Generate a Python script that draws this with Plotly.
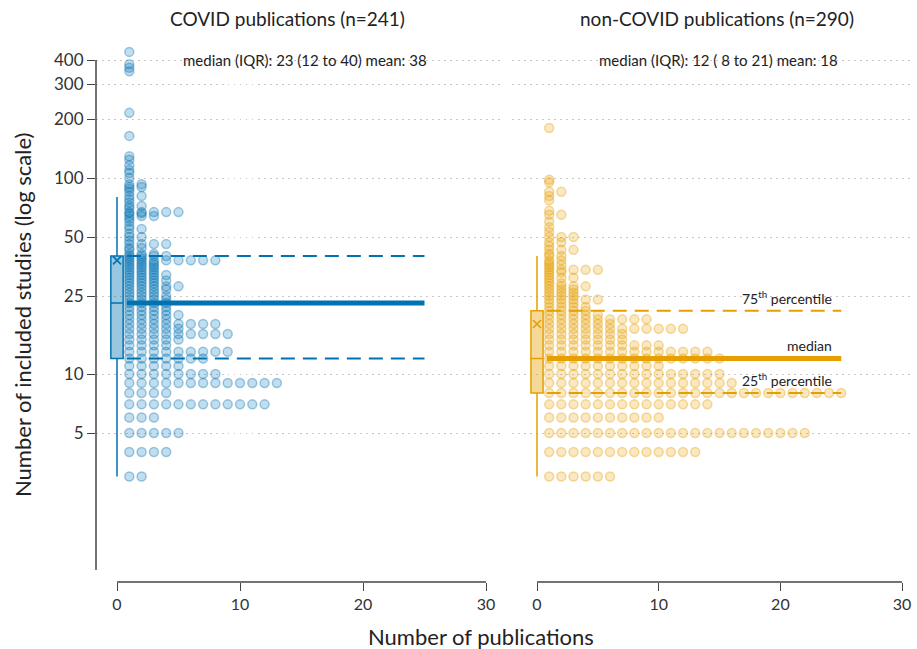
import math
import plotly.graph_objects as go

# ---------------- data ----------------
covid_values = [3, 4, 5, 6, 7, 8, 9, 10, 11, 12,
                13, 14, 15, 16, 17, 18, 19, 20, 21, 22,
                23, 24, 25, 26, 27, 28, 29, 30, 31, 32, 33, 34, 35, 36, 37, 38, 39, 40,
                41, 43, 44, 46, 48, 50, 52, 55, 57, 60,
                62, 64, 66, 67, 70, 72, 75, 78, 81, 85,
                88, 90, 93, 100, 106, 110, 116, 124, 129, 164,
                215, 350, 365, 380, 440]
covid_counts = [2, 4, 5, 3, 12, 4, 13, 8, 5, 7,
                9, 4, 5, 9, 5, 8, 4, 5, 4, 4,
                4, 4, 4, 3, 4, 5, 3, 4, 3, 4, 3, 3, 3, 3, 3, 8, 2, 4,
                3, 1, 2, 4, 1, 2, 1, 2, 1, 1,
                1, 3, 2, 5, 1, 2, 1, 1, 2, 1,
                1, 2, 2, 1, 1, 1, 1, 1, 1, 1,
                1, 1, 1, 1, 1]

noncovid_values = [3, 4, 5, 6, 7, 8, 9, 10, 11, 12,
                   13, 14, 15, 16, 17, 18, 19, 20, 21,
                   22, 23, 24, 25, 26, 27, 28, 29, 30, 31, 32, 33, 34, 35, 36, 37, 38, 40,
                   41, 43, 45, 47, 50, 53, 56, 60, 65, 68, 77, 81, 85, 95, 98, 180]
noncovid_counts = [6, 13, 22, 10, 14, 25, 16, 15, 10, 15,
                   14, 10, 7, 7, 12, 6, 9, 5, 4,
                   4, 3, 5, 3, 3, 3, 4, 2, 1, 3, 1, 2, 5, 1, 2, 1, 2, 2,
                   1, 3, 1, 2, 3, 1, 1, 1, 2, 1, 1, 1, 2, 1, 1, 1]

# summary statistics: [lower whisker, Q1, median, Q3, upper whisker, mean]
covid_stats = [3, 12, 23, 40, 80, 38]
noncovid_stats = [3, 8, 12, 21, 40, 18]

panel_titles = ["COVID publications (n=241)", "non-COVID publications (n=290)"]
panel_notes = ["median (IQR): 23 (12 to 40) mean: 38",
               "median (IQR): 12 ( 8 to 21) mean: 18"]
y_tickvals = [5, 10, 25, 50, 100, 200, 300, 400]
x_tickvals = [0, 10, 20, 30]

BLUE = "#0072B2"
ORANGE = "#E69F00"
FONT = "Lato, 'Open Sans', sans-serif"


def rgba(hex_color, a):
    h = hex_color.lstrip("#")
    r, g, b = int(h[0:2], 16), int(h[2:4], 16), int(h[4:6], 16)
    return f"rgba({r},{g},{b},{a})"


def expand(values, counts):
    xs, ys = [], []
    for v, c in zip(values, counts):
        for k in range(1, c + 1):
            xs.append(k)
            ys.append(v)
    return xs, ys


fig = go.Figure()

panels = [
    (covid_values, covid_counts, covid_stats, BLUE, "x", "y"),
    (noncovid_values, noncovid_counts, noncovid_stats, ORANGE, "x2", "y2"),
]

for values, counts, stats, col, xa, ya in panels:
    xs, ys = expand(values, counts)
    fig.add_trace(go.Scatter(
        x=xs, y=ys, mode="markers", xaxis=xa, yaxis=ya, showlegend=False,
        marker=dict(size=9, color=rgba(col, 0.24),
                    line=dict(color=rgba(col, 0.36), width=1.5)),
        hoverinfo="skip"))
    lo, q1, med, q3, hi, mean = stats
    fig.add_trace(go.Box(
        x=[0], q1=[q1], median=[med], q3=[q3], lowerfence=[lo], upperfence=[hi],
        orientation="v", width=1, whiskerwidth=0, xaxis=xa, yaxis=ya,
        fillcolor=rgba(col, 0.4), line=dict(color=col, width=1.5),
        showlegend=False, boxpoints=False, hoverinfo="skip"))
    fig.add_trace(go.Scatter(
        x=[0], y=[mean], mode="markers", xaxis=xa, yaxis=ya, showlegend=False,
        marker=dict(symbol="x-thin", size=8, line=dict(color=col, width=1.6)),
        hoverinfo="skip"))
    # percentile reference lines
    for val, w, dash in [(q3, 2, "14px,8px"), (q1, 2, "14px,8px"), (med, 5, "solid")]:
        fig.add_trace(go.Scatter(
            x=[0.8, 25], y=[val, val], mode="lines", xaxis=xa, yaxis=ya,
            showlegend=False, line=dict(color=col, width=w, dash=dash),
            hoverinfo="skip"))

# ---------------- layout ----------------
L, R, T, B = 96, 5, 40, 67
W, H = 917, 649
pw, ph = W - L - R, H - T - B


def px2paper(px, py):
    return (px - L) / pw, (H - B - py) / ph


left_dom = [0, (500 - L) / pw]
right_dom = [(512 - L) / pw, 1]
yrange = [(570 - 582) / 196, (570 - 40) / 196]

grid_common = dict(showgrid=True, gridcolor="#c8c8c8", griddash="1.5px,4.5px", gridwidth=1)

fig.update_layout(
    width=W, height=H,
    margin=dict(l=L, r=R, t=T, b=B),
    paper_bgcolor="white", plot_bgcolor="white",
    font=dict(family=FONT, color="#222"),
    showlegend=False,
    xaxis=dict(domain=left_dom, range=[-21 / 12.3, -21 / 12.3 + 404 / 12.3],
               tickvals=x_tickvals, ticks="outside", ticklen=8, tickcolor="#444",
               tickwidth=1.3, showgrid=False, zeroline=False, showline=False,
               tickfont=dict(size=16, color="#333")),
    xaxis2=dict(domain=right_dom, range=[-25 / 12.17, -25 / 12.17 + 400 / 12.17],
                tickvals=x_tickvals, ticks="outside", ticklen=8, tickcolor="#444",
                tickwidth=1.3, showgrid=False, zeroline=False, showline=False,
                tickfont=dict(size=16, color="#333"), anchor="y2"),
    yaxis=dict(type="log", range=yrange, tickvals=y_tickvals,
               ticktext=[str(v) for v in y_tickvals],
               ticks="outside", ticklen=8, tickcolor="#444", tickwidth=1.3,
               showline=False, zeroline=False,
               tickfont=dict(size=17, color="#333"), **grid_common),
    yaxis2=dict(type="log", matches="y", range=yrange, tickvals=y_tickvals,
                showticklabels=False, ticks="", showline=False, zeroline=False,
                anchor="x2", **grid_common),
)

shapes = [
    dict(type="line", xref="x domain", yref="y", x0=0, x1=0, y0=1,
         y1=400, line=dict(color="#444", width=1.5)),
    dict(type="line", xref="x", yref="paper", x0=0, x1=30, y0=0, y1=0,
         line=dict(color="#444", width=1.3)),
    dict(type="line", xref="x2", yref="paper", x0=0, x1=30, y0=0, y1=0,
         line=dict(color="#444", width=1.3)),
]
fig.update_layout(shapes=shapes)

annotations = []
for (cx, title), (nx, note) in zip([(287, panel_titles[0]), (717, panel_titles[1])],
                                   [(305, panel_notes[0]), (718, panel_notes[1])]):
    xp, yp = px2paper(cx, 18)
    annotations.append(dict(x=xp, y=yp, xref="paper", yref="paper", text=title,
                            showarrow=False, xanchor="center", yanchor="middle",
                            font=dict(size=19, color="#222")))
    xp, yp = px2paper(nx, 60)
    annotations.append(dict(x=xp, y=yp, xref="paper", yref="paper", text=note,
                            showarrow=False, xanchor="center", yanchor="middle",
                            font=dict(size=15, color="#222")))

xp, yp = px2paper(22, 315)
annotations.append(dict(x=xp, y=yp, xref="paper", yref="paper",
                        text="Number of included studies (log scale)", textangle=-90,
                        showarrow=False, xanchor="center", yanchor="middle",
                        font=dict(size=22, color="#222")))
xp, yp = px2paper(481, 636)
annotations.append(dict(x=xp, y=yp, xref="paper", yref="paper",
                        text="Number of publications",
                        showarrow=False, xanchor="center", yanchor="middle",
                        font=dict(size=22, color="#222")))

lo, q1, med, q3, hi, mean = noncovid_stats
for val, txt in [(q3, "75<sup>th</sup> percentile"), (med, "median"),
                 (q1, "25<sup>th</sup> percentile")]:
    annotations.append(dict(x=24.4, y=math.log10(val), xref="x2", yref="y2",
                            text=txt, showarrow=False, xanchor="right",
                            yanchor="bottom", yshift=2,
                            font=dict(size=14, color="#222")))

fig.update_layout(annotations=annotations)

fig.write_html("out.html", config={"displayModeBar": False},
               post_script="document.body.style.margin='0';document.body.style.overflow='hidden';")
